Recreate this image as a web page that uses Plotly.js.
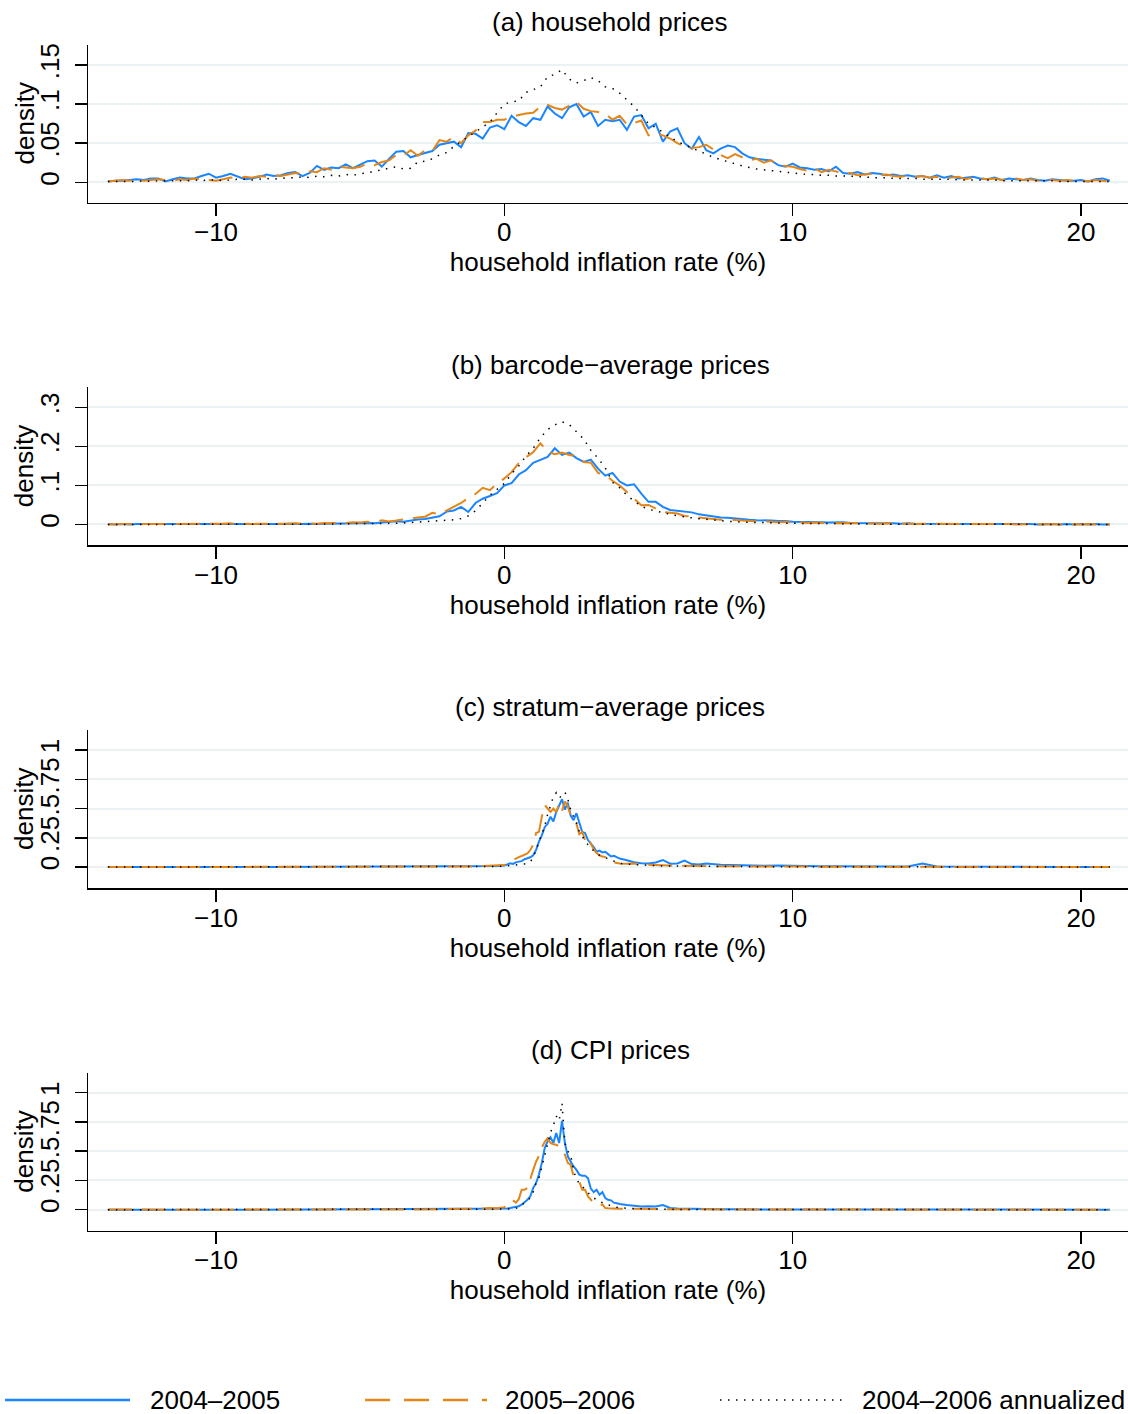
<!DOCTYPE html>
<html>
<head>
<meta charset="utf-8">
<script src="https://cdn.plot.ly/plotly-3.0.1.min.js"></script>
<style>html,body{margin:0;padding:0;background:#fff;}#chart{width:1128px;height:1414px;}</style>
</head>
<body>
<div id="chart"></div>
<script>
// ---- data ----
const seriesNames = ['2004–2005', '2005–2006', '2004–2006 annualized'];
const xTicks = [-10, 0, 10, 20];

// grid used by panels (a) and (b)
const X25 = [-13.75,-13.5,-13.25,-13,-12.75,-12.5,-12.25,-12,-11.75,-11.5,-11.25,-11,-10.75,-10.5,-10.25,-10,-9.75,-9.5,-9.25,-9,-8.75,-8.5,-8.25,-8,-7.75,-7.5,-7.25,-7,-6.75,-6.5,-6.25,-6,-5.75,-5.5,-5.25,-5,-4.75,-4.5,-4.25,-4,-3.75,-3.5,-3.25,-3,-2.75,-2.5,-2.25,-2,-1.75,-1.5,-1.25,-1,-0.75,-0.5,-0.25,0,0.25,0.5,0.75,1,1.25,1.5,1.75,2,2.25,2.5,2.75,3,3.25,3.5,3.75,4,4.25,4.5,4.75,5,5.25,5.5,5.75,6,6.25,6.5,6.75,7,7.25,7.5,7.75,8,8.25,8.5,8.75,9,9.25,9.5,9.75,10,10.25,10.5,10.75,11,11.25,11.5,11.75,12,12.25,12.5,12.75,13,13.25,13.5,13.75,14,14.25,14.5,14.75,15,15.25,15.5,15.75,16,16.25,16.5,16.75,17,17.25,17.5,17.75,18,18.25,18.5,18.75,19,19.25,19.5,19.75,20,20.25,20.5,20.75,21];

// grid used by panels (c) and (d)
const XC = [-13.75,-13,-12,-11,-10,-9,-8,-7,-6,-5,-4,-3,-2,-1,
 -0.75,-0.5,-0.25,0,
 0.1,0.2,0.3,0.4,0.5,0.6,0.7,0.8,0.9,1.0,
 1.1,1.2,1.3,1.4,1.5,1.6,1.7,1.8,1.9,2.0,
 2.1,2.2,2.3,2.4,2.5,2.6,2.7,2.8,2.9,3.0,
 3.1,3.2,3.3,3.4,3.5,3.6,3.7,3.8,3.9,4.0,
 4.25,4.5,4.75,5,5.25,5.5,5.75,6,6.25,6.5,6.75,7,
 7.5,8,8.5,9,9.5,10,10.5,11,11.5,12,12.5,13,13.5,14,14.5,15,15.5,16,16.5,17,17.5,18,18.5,19,19.5,20,20.5,21];

// (a) household prices
const a0405 = [
0.001,0.002,0.002, 0.003,0.004,0.003,0.005, 0.005,0.001,0.004,0.006, 0.005,0.005,0.008,0.011,
0.006,0.008,0.011,0.007, 0.004,0.005,0.007,0.010, 0.008,0.009,0.012,0.013, 0.008,0.012,0.021,0.016,
0.019,0.018,0.023,0.018, 0.022,0.027,0.028,0.020, 0.030,0.039,0.040,0.032, 0.035,0.038,0.040,0.048,
0.050,0.052,0.045,0.063, 0.062,0.056,0.070,0.073, 0.068,0.085,0.077,0.072, 0.082,0.080,0.097,0.088,
0.082,0.096,0.100,0.084, 0.090,0.072,0.080,0.078, 0.080,0.067,0.084,0.086, 0.069,0.075,0.052,0.065,
0.069,0.050,0.043,0.058, 0.041,0.037,0.043,0.047, 0.045,0.037,0.032,0.030, 0.029,0.028,0.022,0.020,
0.024,0.019,0.018,0.016, 0.017,0.014,0.020,0.012, 0.011,0.013,0.010,0.012, 0.011,0.009,0.010,0.008,
0.009,0.007,0.008,0.006, 0.009,0.006,0.008,0.005, 0.006,0.007,0.005,0.004, 0.006,0.003,0.005,0.004,
0.003,0.005,0.003,0.002, 0.004,0.003,0.002,0.002, 0.003,0.001,0.004,0.005, 0.002];
const a0506 = [
0.001,0.002,0.003, 0.002,0.004,0.002,0.003, 0.004,0.003,0.002,0.004, 0.003,0.005,0.004,0.003,
0.002,0.004,0.006,0.005, 0.007,0.006,0.008,0.007, 0.009,0.008,0.010,0.012, 0.011,0.014,0.013,0.018,
0.016,0.020,0.019,0.018, 0.020,0.024,0.022,0.026, 0.028,0.035,0.034,0.041, 0.034,0.041,0.040,0.054,
0.052,0.058,0.050,0.060, 0.066,0.077,0.077,0.080, 0.080,0.084,0.086,0.088, 0.089,0.097,0.099,0.095,
0.093,0.098,0.103,0.094, 0.091,0.090,0.088,0.080, 0.085,0.074,0.076,0.079, 0.060,0.062,0.060,0.056,
0.050,0.046,0.044,0.045, 0.048,0.042,0.035,0.031, 0.036,0.032,0.028,0.030, 0.025,0.028,0.022,0.021,
0.020,0.017,0.015,0.018, 0.013,0.016,0.014,0.011, 0.012,0.009,0.010,0.011, 0.009,0.010,0.008,0.007,
0.009,0.007,0.008,0.006, 0.007,0.005,0.006,0.007, 0.004,0.006,0.005,0.004, 0.005,0.003,0.004,0.005,
0.003,0.004,0.002,0.003, 0.003,0.002,0.003,0.002, 0.002,0.001,0.003,0.002, 0.001];
const a0406 = [
0.001,0.001,0.001, 0.001,0.001,0.002,0.001, 0.002,0.002,0.002,0.002, 0.002,0.003,0.002,0.003,
0.003,0.002,0.003,0.004, 0.004,0.003,0.004,0.005, 0.004,0.005,0.006,0.006, 0.007,0.006,0.008,0.007,
0.009,0.008,0.010,0.009, 0.011,0.012,0.014,0.016, 0.018,0.020,0.017,0.018, 0.026,0.027,0.030,0.035,
0.038,0.046,0.052,0.058, 0.064,0.071,0.077,0.089, 0.100,0.103,0.104,0.115, 0.118,0.122,0.135,0.138,
0.144,0.132,0.127,0.130, 0.134,0.130,0.122,0.120, 0.114,0.106,0.097,0.086, 0.075,0.070,0.064,0.058,
0.052,0.048,0.044,0.040, 0.035,0.032,0.029,0.026, 0.024,0.021,0.019,0.017, 0.016,0.015,0.014,0.013,
0.012,0.011,0.010,0.010, 0.009,0.009,0.008,0.008, 0.008,0.007,0.007,0.006, 0.006,0.006,0.005,0.005,
0.005,0.005,0.004,0.004, 0.004,0.004,0.004,0.003, 0.003,0.003,0.003,0.003, 0.003,0.002,0.002,0.002,
0.002,0.002,0.002,0.002, 0.002,0.001,0.001,0.001, 0.001,0.001,0.001,0.001, 0.001];

// (b) barcode-average prices
const b0405 = [
0.001,0.000,0.001, 0.000,0.001,0.001,0.000, 0.001,0.000,0.001,0.001, 0.000,0.001,0.001,0.000,
0.001,0.000,0.001,0.001, 0.001,0.000,0.001,0.001, 0.001,0.001,0.002,0.001, 0.001,0.002,0.001,0.002,
0.002,0.002,0.003,0.002, 0.003,0.004,0.003,0.005, 0.006,0.008,0.007,0.010, 0.013,0.014,0.018,0.021,
0.033,0.036,0.045,0.032, 0.055,0.066,0.073,0.080, 0.100,0.106,0.128,0.139, 0.158,0.166,0.173,0.195,
0.178,0.184,0.170,0.160, 0.166,0.143,0.125,0.132, 0.110,0.100,0.103,0.079, 0.058,0.058,0.045,0.037,
0.035,0.033,0.031,0.026, 0.023,0.020,0.018,0.017, 0.015,0.014,0.012,0.011, 0.011,0.010,0.009,0.009,
0.007,0.007,0.006,0.007, 0.006,0.005,0.005,0.006, 0.004,0.004,0.003,0.004, 0.003,0.003,0.003,0.002,
0.003,0.002,0.002,0.002, 0.002,0.002,0.001,0.002, 0.001,0.002,0.001,0.001, 0.001,0.001,0.001,0.001,
0.001,0.001,0.000,0.001, 0.001,0.000,0.001,0.000, 0.001,0.000,0.001,0.000, 0.000];
const b0506 = [
0.000,0.001,0.001, 0.001,0.000,0.001,0.001, 0.002,0.001,0.001,0.002, 0.001,0.002,0.001,0.001,
0.001,0.002,0.003,0.001, 0.002,0.001,0.002,0.002, 0.001,0.002,0.002,0.003, 0.002,0.003,0.002,0.004,
0.003,0.005,0.004,0.006, 0.005,0.007,0.006,0.011, 0.008,0.010,0.013,0.016, 0.018,0.020,0.030,0.026,
0.036,0.045,0.055,0.068, 0.078,0.094,0.088,0.105, 0.118,0.134,0.157,0.172, 0.185,0.208,0.186,0.180,
0.184,0.178,0.175,0.160, 0.158,0.132,0.128,0.112, 0.100,0.083,0.066,0.049, 0.050,0.042,0.032,0.030,
0.028,0.022,0.020,0.019, 0.017,0.014,0.012,0.013, 0.011,0.010,0.009,0.009, 0.008,0.007,0.006,0.007,
0.005,0.006,0.004,0.005, 0.004,0.004,0.003,0.004, 0.003,0.003,0.003,0.002, 0.002,0.003,0.002,0.002,
0.002,0.001,0.002,0.002, 0.001,0.002,0.001,0.001, 0.002,0.001,0.001,0.001, 0.001,0.001,0.001,0.000,
0.001,0.001,0.000,0.001, 0.001,0.000,0.001,0.001, 0.000,0.001,0.000,0.001, 0.000];
const b0406 = [
0.000,0.000,0.000, 0.000,0.000,0.000,0.000, 0.000,0.000,0.001,0.000, 0.000,0.000,0.000,0.001,
0.000,0.000,0.001,0.000, 0.001,0.000,0.001,0.001, 0.001,0.001,0.001,0.001, 0.001,0.001,0.001,0.001,
0.001,0.002,0.002,0.002, 0.002,0.002,0.003,0.003, 0.003,0.003,0.004,0.005, 0.006,0.007,0.009,0.010,
0.011,0.012,0.015,0.022, 0.035,0.055,0.075,0.090, 0.105,0.130,0.150,0.175, 0.195,0.222,0.243,0.255,
0.263,0.256,0.238,0.219, 0.190,0.170,0.145,0.108, 0.094,0.075,0.060,0.047, 0.039,0.034,0.030,0.026,
0.022,0.019,0.017,0.015, 0.013,0.011,0.009,0.008, 0.007,0.006,0.006,0.005, 0.005,0.004,0.004,0.003,
0.003,0.003,0.003,0.002, 0.002,0.002,0.002,0.002, 0.002,0.001,0.001,0.001, 0.001,0.001,0.001,0.001,
0.001,0.001,0.001,0.001, 0.001,0.001,0.000,0.001, 0.000,0.001,0.000,0.000, 0.000,0.000,0.000,0.001,
0.000,0.000,0.000,0.000, 0.000,0.000,0.000,0.000, 0.000,0.000,0.000,0.000, 0.000];

// (c) stratum-average prices
const c0405 = [
0.000,0.001,0.000,0.001,0.000,0.001,0.000,0.001,0.001,0.000,0.001,0.002,0.002,0.003,
0.004,0.005,0.008,0.012,
0.020,0.031,0.026,0.040,0.046,0.050,0.066,0.075,0.083,0.100,
0.145,0.217,0.270,0.340,0.370,0.430,0.390,0.470,0.520,0.580,
0.490,0.550,0.440,0.400,0.460,0.370,0.300,0.290,0.230,0.200,
0.170,0.130,0.140,0.125,0.130,0.110,0.090,0.095,0.080,0.072,
0.058,0.040,0.032,0.030,0.038,0.060,0.028,0.030,0.054,0.025,0.022,0.030,
0.020,0.015,0.012,0.010,0.012,0.008,0.009,0.006,0.007,0.005,0.006,0.004,0.005,0.004,0.030,0.004,0.003,0.003,0.002,0.003,0.002,0.002,0.001,0.002,0.001,0.001,0.001,0.000];
const c0506 = [
0.001,0.000,0.001,0.001,0.000,0.001,0.001,0.000,0.001,0.001,0.002,0.002,0.003,0.005,
0.008,0.010,0.014,0.017,
0.030,0.045,0.060,0.074,0.085,0.094,0.105,0.117,0.145,0.190,
0.290,0.300,0.430,0.530,0.500,0.470,0.500,0.470,0.540,0.480,
0.560,0.520,0.440,0.400,0.370,0.280,0.300,0.230,0.260,0.200,
0.150,0.120,0.100,0.090,0.085,0.070,0.050,0.040,0.035,0.030,
0.028,0.030,0.022,0.018,0.015,0.016,0.012,0.010,0.009,0.010,0.008,0.007,
0.006,0.005,0.005,0.004,0.004,0.003,0.003,0.003,0.002,0.002,0.002,0.002,0.001,0.002,0.001,0.001,0.001,0.001,0.001,0.001,0.000,0.001,0.000,0.001,0.000,0.000,0.001,0.000];
const c0406 = [
0.000,0.000,0.000,0.000,0.000,0.000,0.000,0.000,0.000,0.000,0.000,0.001,0.001,0.002,
0.003,0.004,0.005,0.007,
0.009,0.011,0.013,0.016,0.019,0.022,0.026,0.030,0.045,0.080,
0.150,0.220,0.290,0.350,0.450,0.520,0.600,0.635,0.590,0.610,
0.640,0.580,0.490,0.430,0.380,0.300,0.260,0.220,0.190,0.160,
0.140,0.120,0.100,0.090,0.080,0.070,0.060,0.045,0.038,0.030,
0.025,0.020,0.016,0.013,0.011,0.009,0.008,0.007,0.006,0.005,0.005,0.004,
0.004,0.003,0.003,0.002,0.002,0.002,0.002,0.001,0.001,0.001,0.001,0.001,0.001,0.001,0.001,0.000,0.000,0.000,0.000,0.000,0.000,0.000,0.000,0.000,0.000,0.000,0.000,0.000];

// (d) CPI prices
const d0405 = [
0.000,0.001,0.000,0.001,0.000,0.000,0.001,0.000,0.001,0.000,0.001,0.001,0.002,0.003,
0.004,0.004,0.006,0.008,
0.010,0.014,0.018,0.022,0.030,0.043,0.063,0.085,0.114,0.185,
0.228,0.300,0.400,0.527,0.584,0.620,0.570,0.655,0.570,0.760,
0.570,0.456,0.413,0.370,0.340,0.300,0.290,0.290,0.270,0.180,
0.150,0.170,0.128,0.150,0.100,0.085,0.080,0.060,0.055,0.048,
0.040,0.033,0.028,0.030,0.027,0.040,0.015,0.010,0.008,0.006,0.005,0.004,
0.004,0.003,0.003,0.002,0.002,0.002,0.001,0.002,0.001,0.001,0.001,0.001,0.000,0.001,0.001,0.000,0.001,0.000,0.000,0.001,0.000,0.000,0.000,0.000,0.000,0.000,0.000,0.000];
const d0506 = [
0.001,0.000,0.001,0.001,0.000,0.001,0.000,0.001,0.001,0.000,0.001,0.002,0.003,0.005,
0.010,0.015,0.012,0.020,
0.040,0.070,0.080,0.060,0.090,0.170,0.170,0.185,0.270,0.340,
0.410,0.460,0.530,0.580,0.610,0.570,0.560,0.556,0.540,0.510,
0.470,0.400,0.385,0.285,0.260,0.240,0.170,0.170,0.114,0.085,
0.057,0.045,0.040,0.045,0.014,0.012,0.010,0.012,0.010,0.008,
0.010,0.008,0.007,0.006,0.006,0.005,0.004,0.004,0.003,0.003,0.002,0.002,
0.002,0.002,0.001,0.001,0.001,0.001,0.001,0.001,0.000,0.001,0.000,0.000,0.001,0.000,0.000,0.000,0.000,0.000,0.000,0.000,0.000,0.000,0.000,0.000,0.000,0.000,0.000,0.000];
const d0406 = [
0.000,0.000,0.000,0.000,0.000,0.000,0.000,0.000,0.000,0.000,0.000,0.000,0.001,0.001,
0.002,0.002,0.003,0.004,
0.005,0.007,0.009,0.012,0.020,0.040,0.057,0.075,0.100,0.150,
0.230,0.270,0.370,0.480,0.560,0.660,0.720,0.800,0.760,0.910,
0.570,0.500,0.470,0.330,0.270,0.220,0.200,0.170,0.140,0.120,
0.100,0.085,0.070,0.060,0.050,0.040,0.032,0.026,0.020,0.016,
0.012,0.009,0.007,0.005,0.004,0.003,0.003,0.002,0.002,0.002,0.001,0.001,
0.001,0.001,0.001,0.001,0.000,0.000,0.000,0.000,0.000,0.000,0.000,0.000,0.000,0.000,0.000,0.000,0.000,0.000,0.000,0.000,0.000,0.000,0.000,0.000,0.000,0.000,0.000,0.000];

const panelTitles = ['(a) household prices', '(b) barcode−average prices', '(c) stratum−average prices', '(d) CPI prices'];
const yTickVals = [[0, 0.05, 0.1, 0.15], [0, 0.1, 0.2, 0.3], [0, 0.25, 0.5, 0.75, 1], [0, 0.25, 0.5, 0.75, 1]];
const yTickText = [['0', '.05', '.1', '.15'], ['0', '.1', '.2', '.3'], ['0', '.25', '.5', '.75', '1'], ['0', '.25', '.5', '.75', '1']];

// ---- chart ----
const W = 1128, H = 1414;
const FONT = {family: 'Liberation Sans, Arial, Helvetica, sans-serif', size: 26, color: '#000'};
const COLORS = ['#1a85ff', '#e3861a', '#000000'];
const DASHES = ['solid', '24px,10px', '1.5px,6.5px'];
const WIDTHS = [2, 2, 1.5];

const panelData = [
  {x: X25, s: [a0405, a0506, a0406]},
  {x: X25, s: [b0405, b0506, b0406]},
  {x: XC, s: [c0405, c0506, c0406]},
  {x: XC, s: [d0405, d0506, d0406]}
];
// pixel geometry of each plot area (top, bottom) and y ranges
const tops = [44.5, 387.3, 730, 1072.7];
const bots = [202.5, 545, 888, 1230.7];
const yRanges = [[-0.0258, 0.1762], [-0.0525, 0.3512], [-0.1795, 1.171], [-0.1795, 1.171]];
const titleY = [22, 365, 707, 1050];

const traces = [];
const layout = {
  width: W, height: H,
  margin: {l: 0, r: 0, t: 0, b: 0},
  paper_bgcolor: '#fff', plot_bgcolor: '#fff',
  showlegend: false,
  font: FONT,
  annotations: [], shapes: []
};

panelData.forEach((p, i) => {
  const n = i + 1;
  const xa = n === 1 ? 'x' : 'x' + n;
  const ya = n === 1 ? 'y' : 'y' + n;
  p.s.forEach((vals, k) => {
    traces.push({
      type: 'scatter', mode: 'lines', x: p.x, y: vals, name: seriesNames[k],
      xaxis: xa, yaxis: ya,
      line: {color: COLORS[k], width: WIDTHS[k], dash: DASHES[k]},
      hoverinfo: 'x+y+name'
    });
  });
  layout['xaxis' + (n === 1 ? '' : n)] = {
    domain: [88 / W, 1], anchor: ya, range: [-14.44, 21.63],
    tickvals: xTicks, ticks: 'outside', ticklen: 12, tickwidth: 1.5, tickcolor: '#000',
    showline: true, linecolor: '#000', linewidth: 1.5, mirror: false,
    showgrid: false, zeroline: false, tickfont: FONT, ticklabelstandoff: -6,
    title: {text: 'household inflation rate (%)', font: FONT, standoff: 2},
    automargin: false, fixedrange: true
  };
  layout['yaxis' + (n === 1 ? '' : n)] = {
    domain: [1 - bots[i] / H, 1 - tops[i] / H], anchor: xa, range: yRanges[i],
    tickvals: yTickVals[i], ticktext: yTickText[i], tickangle: -90,
    ticks: 'outside', ticklen: 12, tickwidth: 1.5, tickcolor: '#000',
    showline: true, linecolor: '#000', linewidth: 1.5,
    showgrid: true, gridcolor: '#eaf2f3', gridwidth: 2, zeroline: false,
    tickfont: FONT, ticklabelstandoff: 5,
    automargin: false, fixedrange: true
  };
  layout.annotations.push({
    text: panelTitles[i], xref: 'paper', yref: 'paper',
    x: 610 / W, y: 1 - titleY[i] / H, xanchor: 'center', yanchor: 'middle',
    showarrow: false, font: FONT
  });
  // y-axis title "density"
  layout.annotations.push({
    text: 'density', xref: 'paper', yref: 'paper', textangle: -90,
    x: 24 / W, y: 1 - (tops[i] + bots[i]) / 2 / H, xanchor: 'center', yanchor: 'middle',
    showarrow: false, font: FONT
  });
});

// legend drawn at bottom (sample lines + labels)
const legY = 1 - 1400 / H;
const legItems = [
  {x0: 5, x1: 130, tx: 148},
  {x0: 365, x1: 487, tx: 503},
  {x0: 720, x1: 845, tx: 860}
];
const legDashes = ['solid', '25px,14px', '1.5px,6.5px'];
legItems.forEach((it, k) => {
  layout.shapes.push({
    type: 'line', xref: 'paper', yref: 'paper',
    x0: it.x0 / W, x1: it.x1 / W, y0: legY, y1: legY,
    line: {color: COLORS[k], width: WIDTHS[k] + (k === 2 ? 0 : 0.5), dash: legDashes[k]}
  });
  layout.annotations.push({
    text: seriesNames[k], xref: 'paper', yref: 'paper',
    x: it.tx / W, y: legY, xanchor: 'left', yanchor: 'middle',
    showarrow: false, font: FONT
  });
});

Plotly.newPlot('chart', traces, layout, {displayModeBar: false, staticPlot: true});
</script>
</body>
</html>
